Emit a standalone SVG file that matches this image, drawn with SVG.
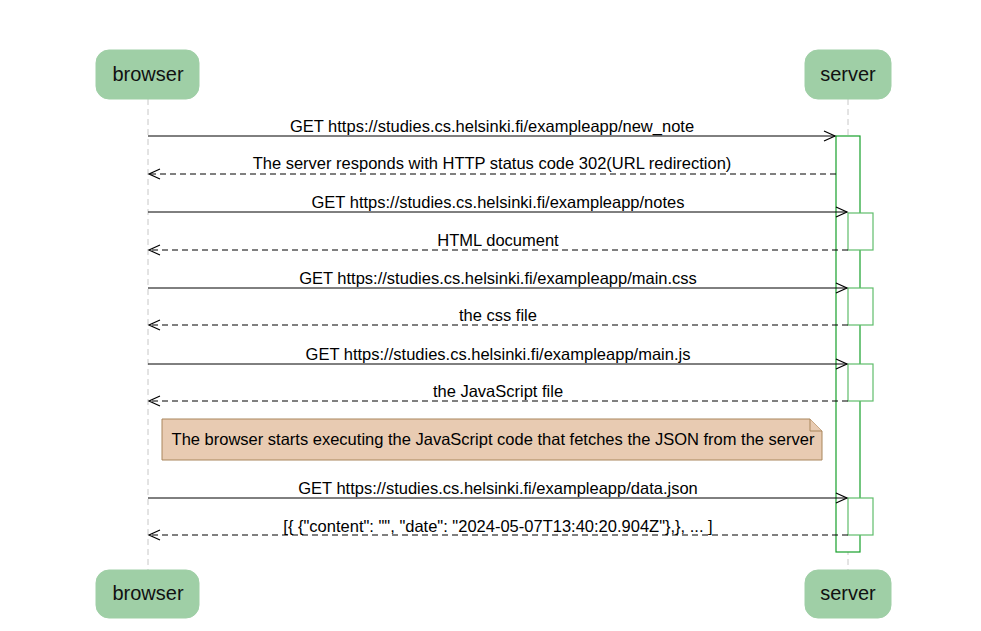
<svg xmlns="http://www.w3.org/2000/svg" width="981" height="631" viewBox="0 0 981 631">
<defs>
<marker id="arr" markerWidth="14" markerHeight="12" refX="12" refY="6" orient="auto" markerUnits="userSpaceOnUse">
<path d="M1,1 L12,6 L1,11" fill="none" stroke="#000" stroke-width="1.2"/>
</marker>
</defs>
<style>
.actor rect{fill:#9fcfa6;stroke:#9fcfa6;}
.actor text{font-family:"Liberation Sans",Arial,sans-serif;font-size:20px;fill:#111;text-anchor:middle;}
.life{stroke:#c8c8c8;stroke-width:1;stroke-dasharray:6,4;fill:none;}
.act{fill:#fff;stroke:#17a02a;stroke-width:1.2;}
.act2{fill:#fff;stroke:#5fbd6b;stroke-width:1.2;}
.msg{stroke:#000;stroke-width:1;fill:none;marker-end:url(#arr);}
.dash{stroke-dasharray:6,4;}
.lbl{font-family:"Liberation Sans",Arial,sans-serif;font-size:16.5px;fill:#000;text-anchor:middle;}
.note path{fill:#e8cbb2;stroke:#a9865d;stroke-width:1;}
</style>
<rect width="981" height="631" fill="#fff"/>
<g id="lifelines">
<line class="life" x1="148" y1="99" x2="148" y2="570"/>
<line class="life" x1="848" y1="99" x2="848" y2="570"/>
</g>
<g id="actor-browser-top" class="actor"><rect x="96" y="50" width="103" height="49" rx="13"/><text x="148" y="81">browser</text></g>
<g id="actor-server-top" class="actor"><rect x="805" y="50" width="86" height="49" rx="13"/><text x="848" y="81">server</text></g>
<g id="actor-browser-bottom" class="actor"><rect x="96" y="570" width="103" height="48" rx="13"/><text x="148" y="600">browser</text></g>
<g id="actor-server-bottom" class="actor"><rect x="805" y="570" width="86" height="48" rx="13"/><text x="848" y="600">server</text></g>
<g id="activations">
<rect class="act" x="836" y="136" width="24" height="416"/>
<rect class="act2" x="848" y="213" width="25" height="37"/>
<rect class="act2" x="848" y="288" width="25" height="37"/>
<rect class="act2" x="848" y="364" width="25" height="37"/>
<rect class="act2" x="848" y="498" width="25" height="37"/>
</g>
<g id="note" class="note">
<path d="M162,419 H810 L822,431 V460 H162 Z"/>
<path d="M810,419 V431 H822" fill="none"/>
<text class="lbl" x="493" y="445">The browser starts executing the JavaScript code that fetches the JSON from the server</text>
</g>
<g id="connectors">
<line class="msg" x1="148" y1="136" x2="835" y2="136"/>
<text class="lbl" x="492" y="132">GET https://studies.cs.helsinki.fi/exampleapp/new_note</text>
<line class="msg dash" x1="836" y1="174" x2="149" y2="174"/>
<text class="lbl" x="492" y="169">The server responds with HTTP status code 302(URL redirection)</text>
<line class="msg" x1="148" y1="212" x2="847" y2="212"/>
<text class="lbl" x="498" y="208">GET https://studies.cs.helsinki.fi/exampleapp/notes</text>
<line class="msg dash" x1="848" y1="250" x2="149" y2="250"/>
<text class="lbl" x="498" y="246">HTML document</text>
<line class="msg" x1="148" y1="288" x2="847" y2="288"/>
<text class="lbl" x="498" y="284">GET https://studies.cs.helsinki.fi/exampleapp/main.css</text>
<line class="msg dash" x1="848" y1="325" x2="149" y2="325"/>
<text class="lbl" x="498" y="321">the css file</text>
<line class="msg" x1="148" y1="364" x2="847" y2="364"/>
<text class="lbl" x="498" y="360">GET https://studies.cs.helsinki.fi/exampleapp/main.js</text>
<line class="msg dash" x1="848" y1="401" x2="149" y2="401"/>
<text class="lbl" x="498" y="397">the JavaScript file</text>
<line class="msg" x1="148" y1="498" x2="847" y2="498"/>
<text class="lbl" x="498" y="494">GET https://studies.cs.helsinki.fi/exampleapp/data.json</text>
<line class="msg dash" x1="848" y1="535" x2="149" y2="535"/>
<text class="lbl" x="498" y="532">[{ {"content": "", "date": "2024-05-07T13:40:20.904Z"},}, ... ]</text>
</g>
</svg>
